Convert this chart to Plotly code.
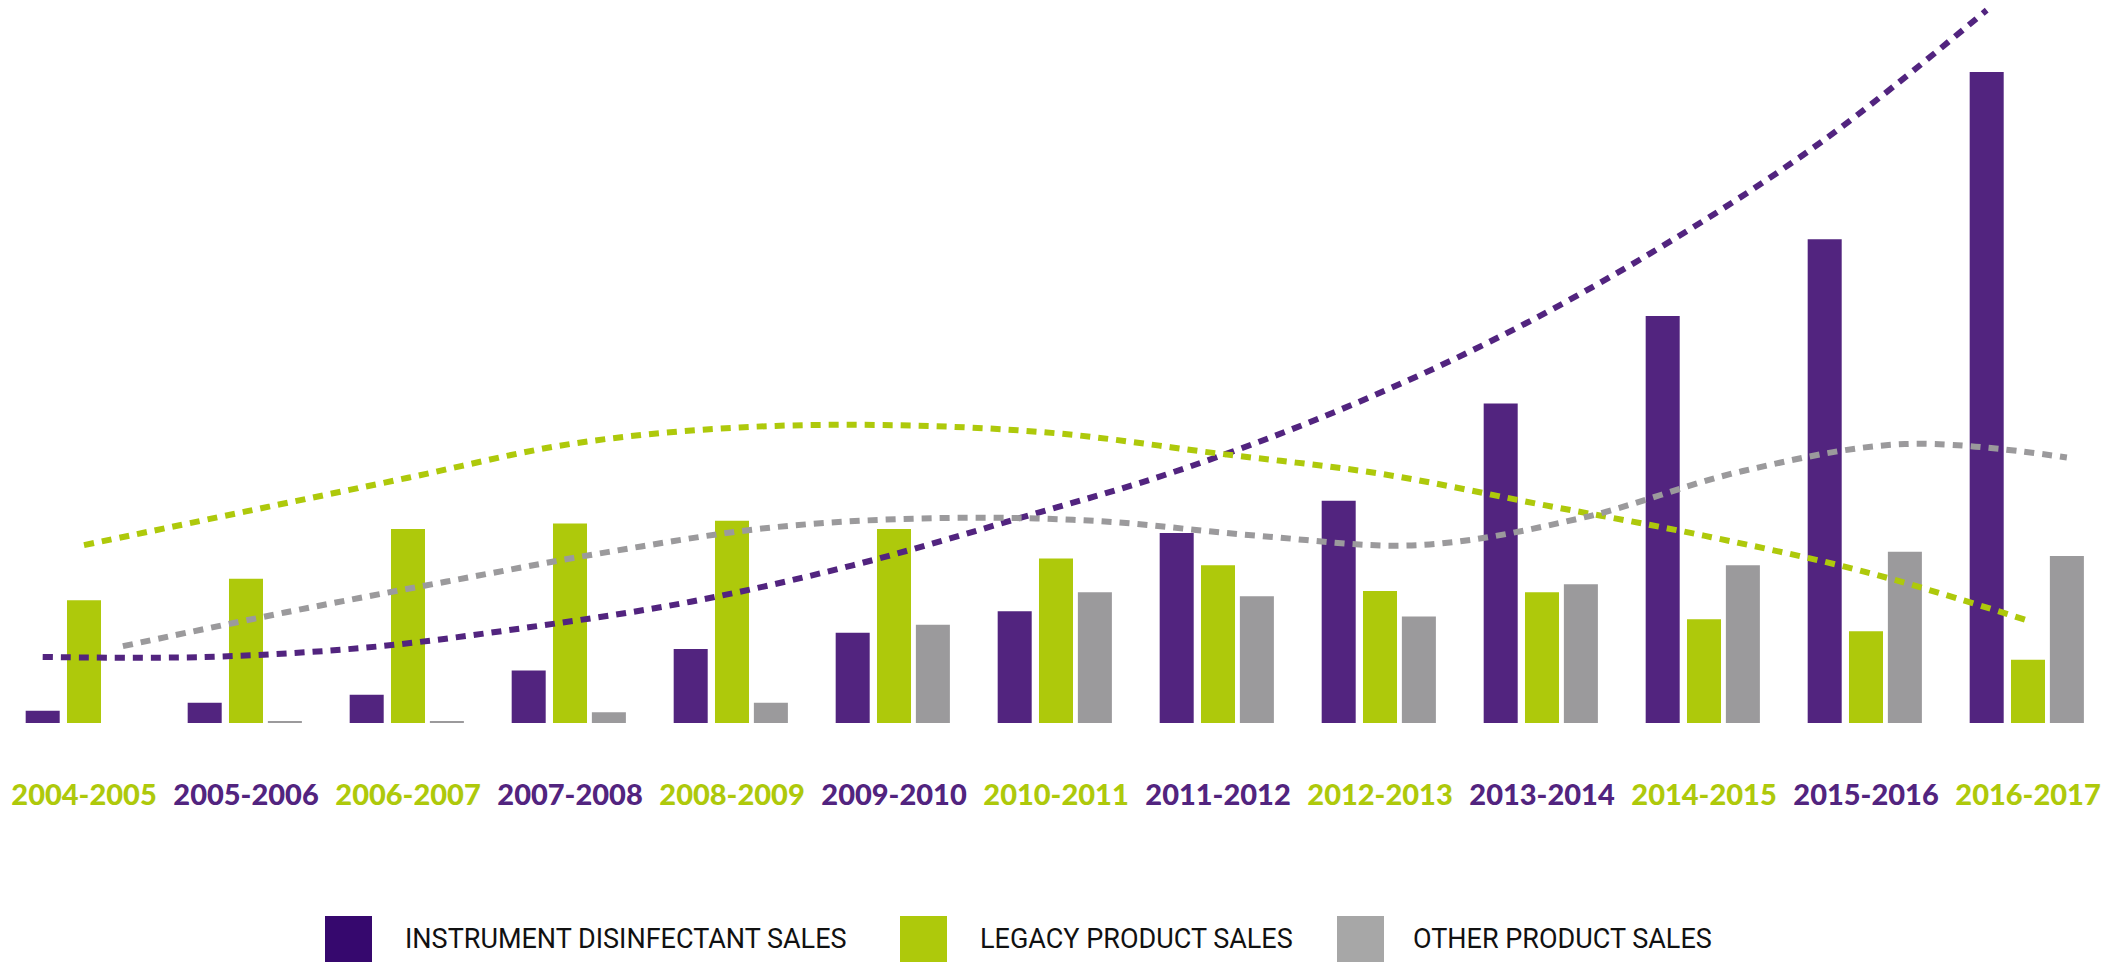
import plotly.graph_objects as go

categories = ["2004-2005", "2005-2006", "2006-2007", "2007-2008", "2008-2009", "2009-2010",
              "2010-2011", "2011-2012", "2012-2013", "2013-2014", "2014-2015", "2015-2016", "2016-2017"]

instrument = [9, 15, 21, 39, 55, 67, 83, 141, 165, 237, 302, 359, 483]
legacy = [91, 107, 144, 148, 150, 144, 122, 117, 98, 97, 77, 68, 47]
other = [0, 1, 1, 8, 15, 73, 97, 94, 79, 103, 117, 127, 124]

# trend lines (same units)
instrument_trend = [49, 49, 56, 71, 90, 117, 151, 187, 232, 287, 354, 433, 529]
legacy_trend = [132, 157, 182, 207, 219, 221, 215, 200, 185, 162, 139, 112, 76]
other_trend = [57, 82, 105, 127, 145, 152, 150, 139, 132, 152, 187, 207, 197]

series_names = ["INSTRUMENT DISINFECTANT SALES", "LEGACY PRODUCT SALES", "OTHER PRODUCT SALES"]
bar_colors = ["#52247f", "#aec90b", "#9b9a9c"]
legend_colors = ["#36086e", "#aec90b", "#a7a7a7"]
label_colors = ["#aec90b", "#52247f"]

W = 2113
H = 964
ML, MR, MT, MB = 3, 4, 0, 241
plot_h = H - MT - MB

bw = 0.21
shifts = [-0.255, 0.0, 0.24]
xs = list(range(len(categories)))

fig = go.Figure()
for vals, sh, col, name in zip([instrument, legacy, other], shifts, bar_colors, series_names):
    fig.add_trace(go.Bar(
        x=xs, y=vals, width=bw, offset=sh - bw / 2, name=name,
        marker=dict(color=col, line=dict(width=0)),
        showlegend=False,
    ))

for vals, sh, col, name in zip([instrument_trend, legacy_trend, other_trend], shifts, bar_colors, series_names):
    fig.add_trace(go.Scatter(
        x=[x + sh for x in xs], y=vals, mode="lines", name=name + " trend",
        line=dict(color=col, width=6, dash="10px,8px", shape="spline", smoothing=1.0),
        showlegend=False,
    ))

ticktext = [f'<span style="color:{label_colors[i % 2]}">{c}</span>' for i, c in enumerate(categories)]

fig.update_layout(
    width=W, height=H,
    margin=dict(l=ML, r=MR, t=MT, b=MB, autoexpand=False),
    paper_bgcolor="white", plot_bgcolor="white",
    barmode="overlay",
    xaxis=dict(range=[-0.5, 12.5], tickmode="array", tickvals=xs, ticktext=ticktext,
               showgrid=False, zeroline=False, showline=False, ticks="", automargin=False,
               tickfont=dict(family="Lato", size=29, weight=900), ticklabelstandoff=52),
    yaxis=dict(range=[0, plot_h / 1.3476], visible=False, showgrid=False, zeroline=False,
               automargin=False),
)

# manual legend (large squares as in the original)
legend_sq_x = [325, 900, 1337]
legend_txt_x = [403, 978, 1411]
sq_w, sq_h = 47, 46
cy = 939
for sx, tx, col, name in zip(legend_sq_x, legend_txt_x, legend_colors, series_names):
    fig.add_shape(type="rect", xref="paper", yref="paper",
                  x0=(sx - ML) / (W - ML - MR), x1=(sx + sq_w - ML) / (W - ML - MR),
                  y0=(H - MB - (cy + sq_h / 2)) / plot_h, y1=(H - MB - (cy - sq_h / 2)) / plot_h,
                  fillcolor=col, line=dict(width=0))
    fig.add_annotation(xref="paper", yref="paper", x=(tx - ML) / (W - ML - MR),
                       y=(H - MB - cy) / plot_h,
                       text=name, showarrow=False,
                       xanchor="left", yanchor="middle",
                       font=dict(family="Roboto, sans-serif", size=27, color="#111111"))

fig.write_html("out.html", config={"displayModeBar": False},
               post_script="document.body.style.margin='0px';document.body.style.overflow='hidden';")
